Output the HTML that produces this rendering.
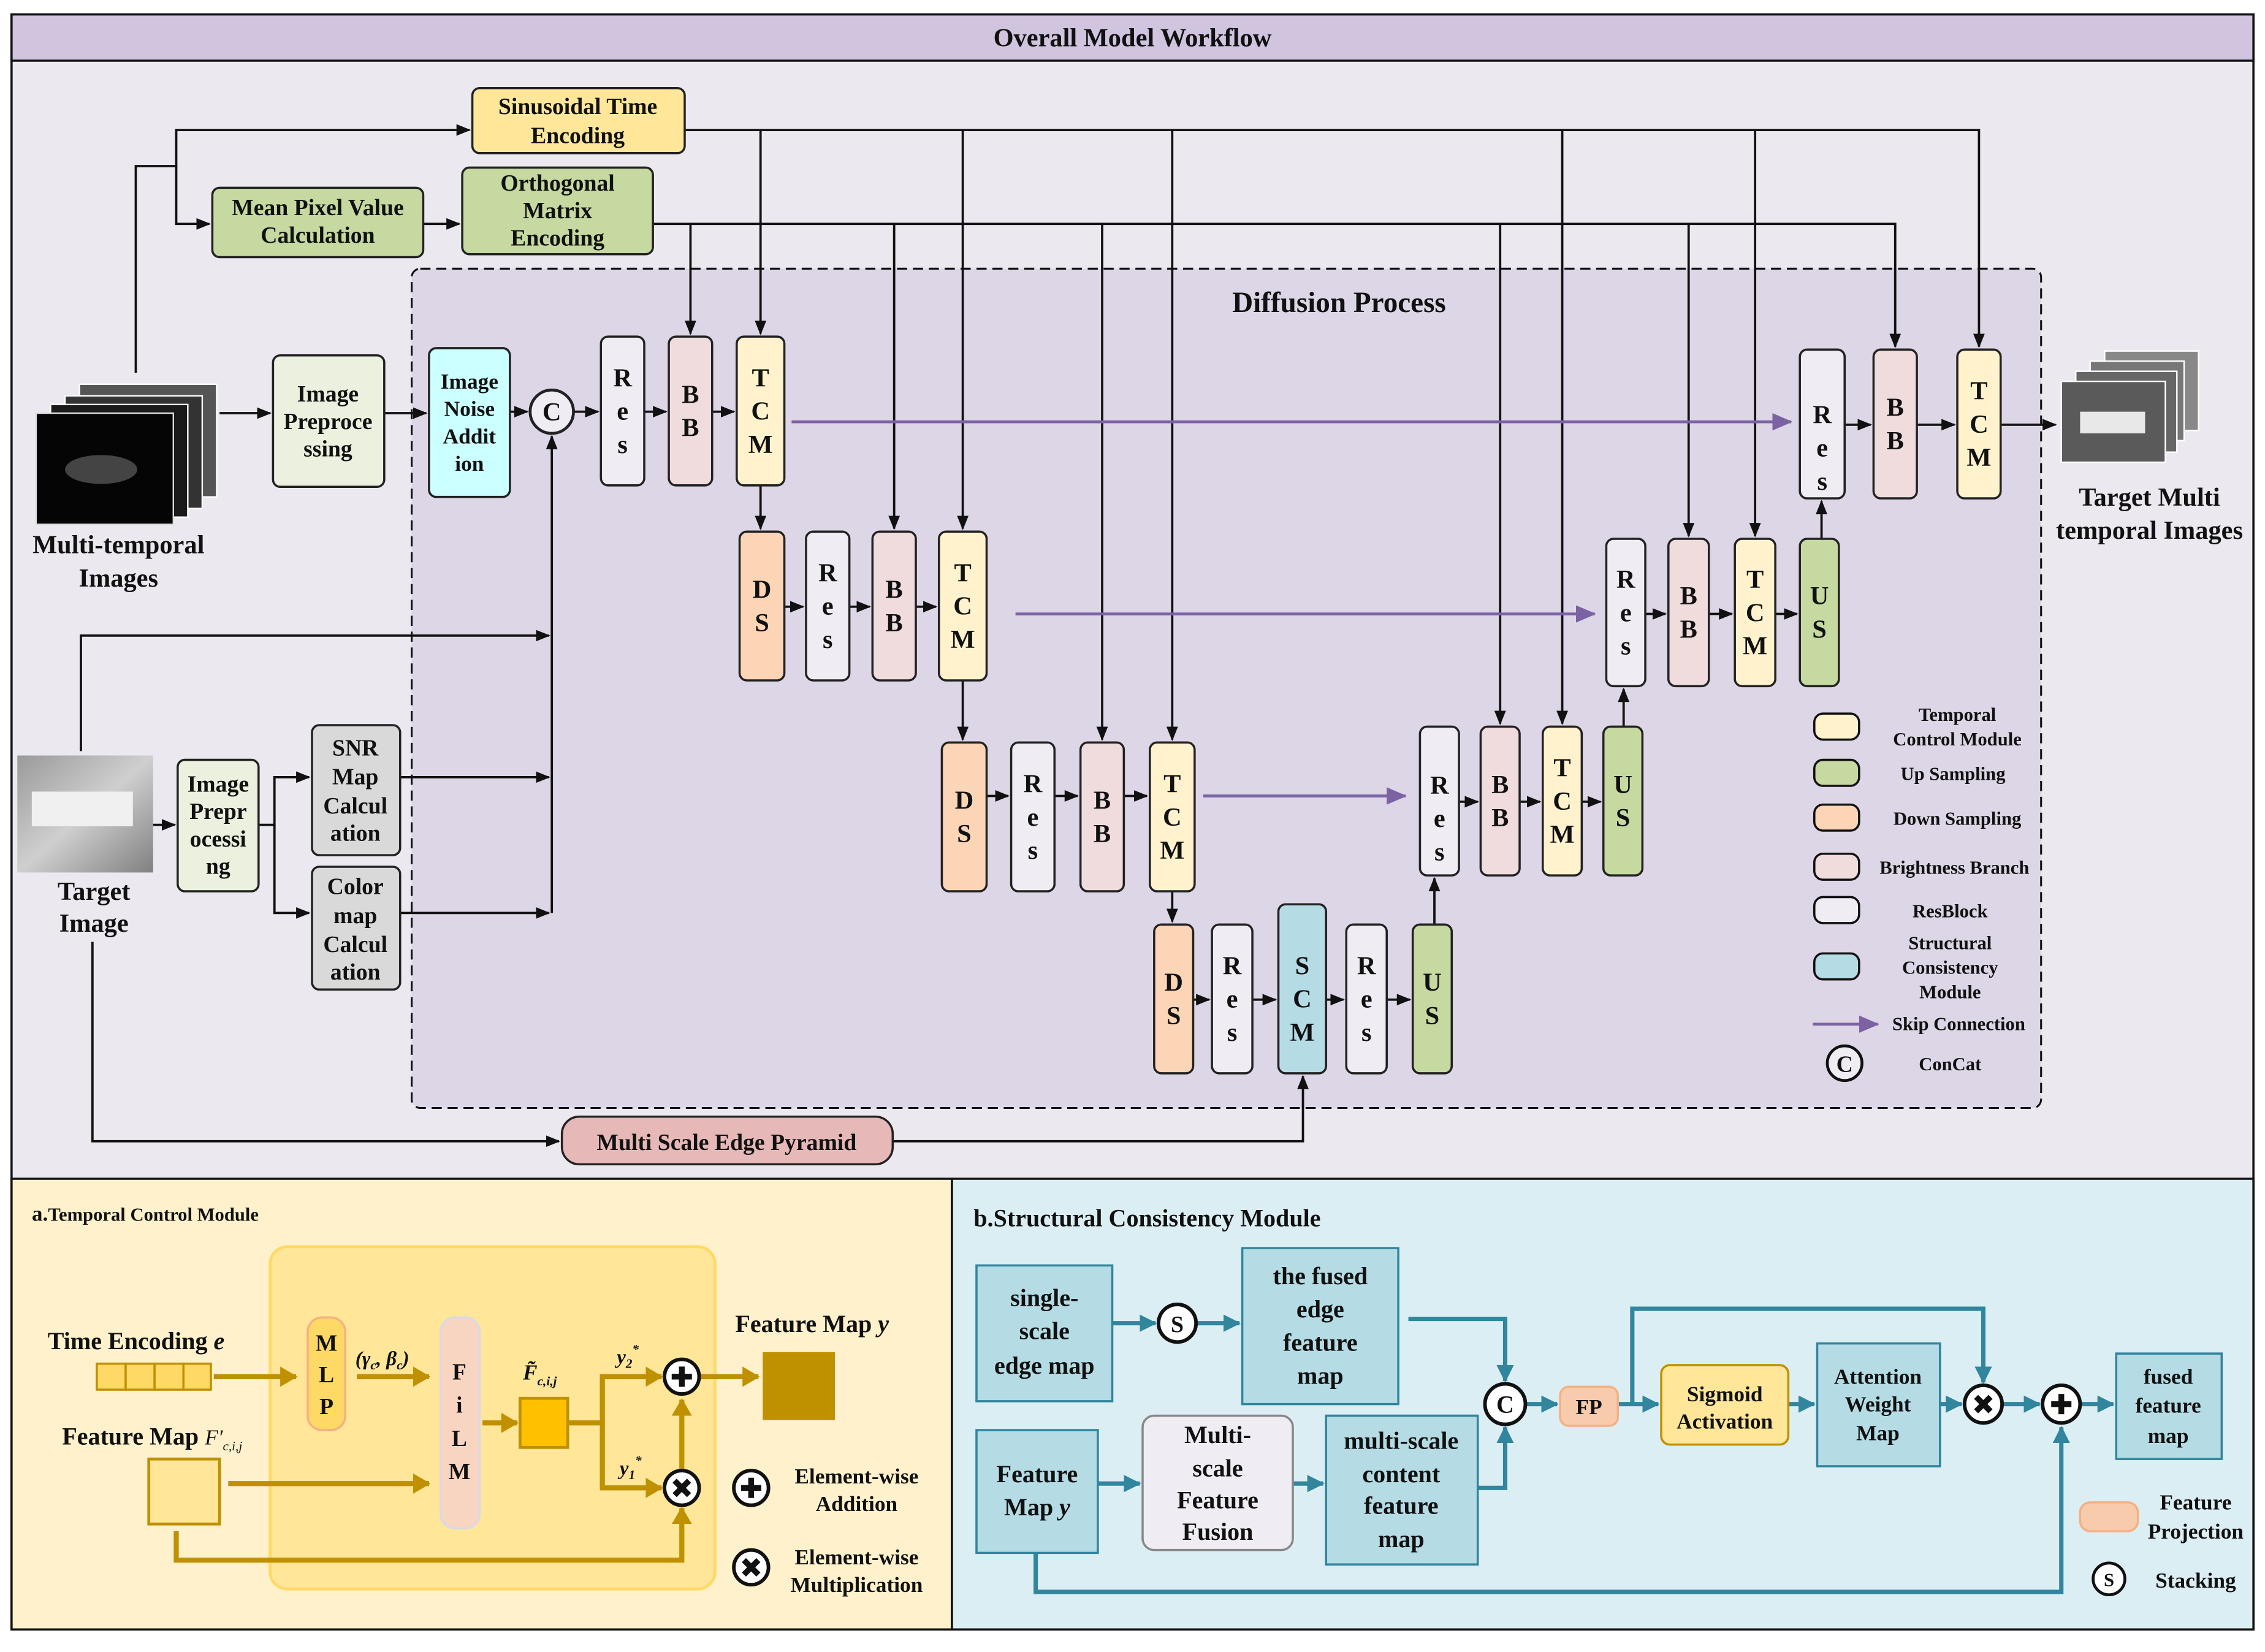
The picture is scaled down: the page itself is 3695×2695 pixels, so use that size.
<!DOCTYPE html>
<html><head><meta charset="utf-8"><style>html,body{margin:0;padding:0;background:#fff}svg{display:block}text{font-family:"Liberation Serif",serif;font-weight:bold;fill:#111}</style></head><body>
<svg width="3695" height="2695" viewBox="0 0 1568 1143.6" preserveAspectRatio="none" xmlns="http://www.w3.org/2000/svg">
<defs>
<marker id="ak" markerUnits="userSpaceOnUse" markerWidth="10" markerHeight="10" refX="9" refY="5" orient="auto"><path d="M0,1 L10,5 L0,9z" fill="#111"/></marker>
<marker id="ap" markerUnits="userSpaceOnUse" markerWidth="14" markerHeight="12" refX="13" refY="6" orient="auto"><path d="M0,0 L14,6 L0,12z" fill="#7b62a3"/></marker>
<marker id="ag" markerUnits="userSpaceOnUse" markerWidth="12" markerHeight="14" refX="11" refY="7" orient="auto"><path d="M0,0 L12,7 L0,14z" fill="#bf9000"/></marker>
<marker id="at" markerUnits="userSpaceOnUse" markerWidth="12" markerHeight="12" refX="11" refY="6" orient="auto"><path d="M0,0 L12,6 L0,12z" fill="#31859c"/></marker>
<linearGradient id="tg" x1="0" y1="0" x2="1" y2="1"><stop offset="0" stop-color="#9a9a9a"/><stop offset="0.5" stop-color="#cfcfcf"/><stop offset="1" stop-color="#808080"/></linearGradient>
</defs>
<!-- frame -->
<rect x="8" y="10" width="1552" height="1118" fill="#ece8f0" stroke="#111" stroke-width="1.5"/>
<rect x="8" y="10" width="1552" height="32" fill="#d0c4de" stroke="#111" stroke-width="1.5"/>
<text x="784" y="32" font-size="18" text-anchor="middle">Overall Model Workflow</text>
<rect x="285" y="186" width="1128" height="581" rx="6" fill="#ddd6e6" stroke="#111" stroke-width="1.3" stroke-dasharray="7,4"/>
<text x="927" y="216" font-size="20" text-anchor="middle">Diffusion Process</text>

<!-- top lines -->
<g fill="none" stroke="#111" stroke-width="1.6">
<path d="M94,258 V115 H122 V90 H325" marker-end="url(#ak)"/>
<path d="M122,115 V155 H145" marker-end="url(#ak)"/>
<path d="M293,155 H318" marker-end="url(#ak)"/>
<path d="M474,90 H1370 V240" marker-end="url(#ak)"/>
<path d="M526.5,90 V231" marker-end="url(#ak)"/>
<path d="M666.5,90 V366" marker-end="url(#ak)"/>
<path d="M811.5,90 V512" marker-end="url(#ak)"/>
<path d="M1081.5,90 V501" marker-end="url(#ak)"/>
<path d="M1215,90 V371" marker-end="url(#ak)"/>
<path d="M452,155 H1312 V240" marker-end="url(#ak)"/>
<path d="M478,155 V231" marker-end="url(#ak)"/>
<path d="M619,155 V366" marker-end="url(#ak)"/>
<path d="M763,155 V512" marker-end="url(#ak)"/>
<path d="M1038.5,155 V501" marker-end="url(#ak)"/>
<path d="M1169,155 V371" marker-end="url(#ak)"/>
<!-- row1 -->
<path d="M152,286 H187" marker-end="url(#ak)"/>
<path d="M266,286 H295" marker-end="url(#ak)"/>
<path d="M353,285 H365" marker-end="url(#ak)"/>
<path d="M397,285 H414" marker-end="url(#ak)"/>
<path d="M446,285 H461" marker-end="url(#ak)"/>
<path d="M493,285 H508" marker-end="url(#ak)"/>
<path d="M526.5,336 V366" marker-end="url(#ak)"/>
<path d="M543,420 H556" marker-end="url(#ak)"/>
<path d="M588,420 H602" marker-end="url(#ak)"/>
<path d="M634,420 H648" marker-end="url(#ak)"/>
<path d="M666.5,471 V512" marker-end="url(#ak)"/>
<path d="M683,551 H698" marker-end="url(#ak)"/>
<path d="M730,551 H746" marker-end="url(#ak)"/>
<path d="M778,551 H794" marker-end="url(#ak)"/>
<path d="M811.5,617 V638" marker-end="url(#ak)"/>
<path d="M826,692 H837" marker-end="url(#ak)"/>
<path d="M867,692 H883" marker-end="url(#ak)"/>
<path d="M918,692 H930" marker-end="url(#ak)"/>
<path d="M960,692 H976" marker-end="url(#ak)"/>
<path d="M993,640 V608" marker-end="url(#ak)"/>
<path d="M1010,555 H1023" marker-end="url(#ak)"/>
<path d="M1052,555 H1066" marker-end="url(#ak)"/>
<path d="M1095,555 H1108" marker-end="url(#ak)"/>
<path d="M1124,503 V477" marker-end="url(#ak)"/>
<path d="M1139,425 H1153" marker-end="url(#ak)"/>
<path d="M1183,425 H1199" marker-end="url(#ak)"/>
<path d="M1229,425 H1244" marker-end="url(#ak)"/>
<path d="M1261,373 V347" marker-end="url(#ak)"/>
<path d="M1277,294 H1295" marker-end="url(#ak)"/>
<path d="M1327,294 H1353" marker-end="url(#ak)"/>
<path d="M1385,294 H1423" marker-end="url(#ak)"/>
<!-- target image lines -->
<path d="M56,520 V440 H380" marker-end="url(#ak)"/>
<path d="M382,632 V302" marker-end="url(#ak)"/>
<path d="M277,538 H380" marker-end="url(#ak)"/>
<path d="M277,632 H380" marker-end="url(#ak)"/>
<path d="M106,571 H121" marker-end="url(#ak)"/>
<path d="M179,571 H190 V538 H214" marker-end="url(#ak)"/>
<path d="M190,571 V632 H214" marker-end="url(#ak)"/>
<path d="M64,652 V790 H387" marker-end="url(#ak)"/>
<path d="M618,790 H902 V745" marker-end="url(#ak)"/>
</g>
<g stroke="#7b62a3" stroke-width="2" fill="none">
<path d="M548,292 H1240" marker-end="url(#ap)"/>
<path d="M703,425 H1104" marker-end="url(#ap)"/>
<path d="M833,551 H973" marker-end="url(#ap)"/>
<path d="M1255,709 H1300" marker-end="url(#ap)"/>
</g>

<!-- top nodes -->
<g stroke="#222" stroke-width="1.5">
<rect x="327" y="61" width="147" height="45" rx="5" fill="#ffe699"/>
<rect x="147" y="130" width="146" height="48" rx="5" fill="#c5d9a0"/>
<rect x="320" y="116" width="132" height="60" rx="5" fill="#c5d9a0"/>
<rect x="189" y="246" width="77" height="91" rx="5" fill="#ebf1de"/>
<rect x="297" y="241" width="56" height="103" rx="5" fill="#ccffff"/>
<rect x="123" y="526" width="56" height="91" rx="5" fill="#ebf1de"/>
<rect x="216" y="502" width="61" height="90" rx="5" fill="#d9d9d9"/>
<rect x="216" y="600" width="61" height="85" rx="5" fill="#d9d9d9"/>
<rect x="389" y="773" width="229" height="33" rx="12" fill="#e6b8b7"/>
<circle cx="382" cy="285" r="15" fill="#efedf3" stroke-width="2"/>
</g>
<g font-size="16" text-anchor="middle">
<text x="400" y="79">Sinusoidal Time</text><text x="400" y="99">Encoding</text>
<text x="220" y="149">Mean Pixel Value</text><text x="220" y="168">Calculation</text>
<text x="386" y="132">Orthogonal</text><text x="386" y="151">Matrix</text><text x="386" y="170">Encoding</text>
<text x="227" y="278">Image</text><text x="227" y="297">Preproce</text><text x="227" y="316">ssing</text>
<text x="325" y="269" font-size="15">Image</text><text x="325" y="288" font-size="15">Noise</text><text x="325" y="307" font-size="15">Addit</text><text x="325" y="326" font-size="15">ion</text>
<text x="151" y="548">Image</text><text x="151" y="567">Prepr</text><text x="151" y="586">ocessi</text><text x="151" y="605">ng</text>
<text x="246" y="523">SNR</text><text x="246" y="543">Map</text><text x="246" y="563">Calcul</text><text x="246" y="582">ation</text>
<text x="246" y="619">Color</text><text x="246" y="639">map</text><text x="246" y="659">Calcul</text><text x="246" y="678">ation</text>
<text x="503" y="796">Multi Scale Edge Pyramid</text>
<text x="382" y="291" font-size="18">C</text>
</g>

<!-- images -->
<g>
<rect x="55" y="266" width="95" height="78" fill="#555" stroke="#fff"/>
<rect x="45" y="274" width="95" height="78" fill="#333" stroke="#fff"/>
<rect x="35" y="280" width="95" height="78" fill="#1a1a1a" stroke="#fff"/>
<rect x="25" y="286" width="95" height="77" fill="#050505" stroke="#ddd"/>
<ellipse cx="70" cy="325" rx="25" ry="10" fill="#444"/>
<rect x="1457" y="243" width="65" height="55" fill="#888" stroke="#fff"/>
<rect x="1447" y="250" width="65" height="55" fill="#777" stroke="#fff"/>
<rect x="1437" y="257" width="70" height="56" fill="#666" stroke="#fff"/>
<rect x="1427" y="264" width="72" height="56" fill="#5a5a5a" stroke="#fff"/>
<rect x="1440" y="285" width="45" height="15" fill="#e8e8e8"/>
<rect x="12" y="523" width="94" height="81" fill="url(#tg)"/>
<rect x="22" y="548" width="70" height="24" fill="#f0f0f0"/>
</g>
<g font-size="18" text-anchor="middle">
<text x="82" y="383">Multi-temporal</text><text x="82" y="406">Images</text>
<text x="65" y="623">Target</text><text x="65" y="645">Image</text>
<text x="1488" y="350">Target Multi</text><text x="1488" y="373">temporal Images</text>
</g>

<!-- column blocks -->
<g stroke="#222" stroke-width="1.5">
<rect x="416" y="233" width="30" height="103" rx="5" fill="#efedf3"/>
<rect x="463" y="233" width="30" height="103" rx="5" fill="#f0dcdc"/>
<rect x="510" y="233" width="33" height="103" rx="5" fill="#fff2cc"/>
<rect x="512" y="368" width="31" height="103" rx="5" fill="#fbd5b5"/>
<rect x="558" y="368" width="30" height="103" rx="5" fill="#efedf3"/>
<rect x="604" y="368" width="30" height="103" rx="5" fill="#f0dcdc"/>
<rect x="650" y="368" width="33" height="103" rx="5" fill="#fff2cc"/>
<rect x="652" y="514" width="31" height="103" rx="5" fill="#fbd5b5"/>
<rect x="700" y="514" width="30" height="103" rx="5" fill="#efedf3"/>
<rect x="748" y="514" width="30" height="103" rx="5" fill="#f0dcdc"/>
<rect x="796" y="514" width="31" height="103" rx="5" fill="#fff2cc"/>
<rect x="799" y="640" width="27" height="103" rx="5" fill="#fbd5b5"/>
<rect x="839" y="640" width="28" height="103" rx="5" fill="#efedf3"/>
<rect x="885" y="626" width="33" height="117" rx="5" fill="#b5dce5"/>
<rect x="932" y="640" width="28" height="103" rx="5" fill="#efedf3"/>
<rect x="978" y="640" width="27" height="103" rx="5" fill="#c5d9a0"/>
<rect x="983" y="503" width="27" height="103" rx="5" fill="#efedf3"/>
<rect x="1025" y="503" width="27" height="103" rx="5" fill="#f0dcdc"/>
<rect x="1068" y="503" width="27" height="103" rx="5" fill="#fff2cc"/>
<rect x="1110" y="503" width="27" height="103" rx="5" fill="#c5d9a0"/>
<rect x="1112" y="373" width="27" height="102" rx="5" fill="#efedf3"/>
<rect x="1155" y="373" width="28" height="102" rx="5" fill="#f0dcdc"/>
<rect x="1201" y="373" width="28" height="102" rx="5" fill="#fff2cc"/>
<rect x="1246" y="373" width="27" height="102" rx="5" fill="#c5d9a0"/>
<rect x="1246" y="242" width="31" height="103" rx="5" fill="#efedf3"/>
<rect x="1297" y="242" width="30" height="103" rx="5" fill="#f0dcdc"/>
<rect x="1355" y="242" width="30" height="103" rx="5" fill="#fff2cc"/>
</g>
<g font-size="18" text-anchor="middle">
<text x="431" y="267.5">R</text><text x="431" y="290.5">e</text><text x="431" y="313.5">s</text>
<text x="478" y="279">B</text><text x="478" y="302">B</text>
<text x="526.5" y="267.5">T</text><text x="526.5" y="290.5">C</text><text x="526.5" y="313.5">M</text>
<text x="527.5" y="414">D</text><text x="527.5" y="437">S</text>
<text x="573" y="402.5">R</text><text x="573" y="425.5">e</text><text x="573" y="448.5">s</text>
<text x="619" y="414">B</text><text x="619" y="437">B</text>
<text x="666.5" y="402.5">T</text><text x="666.5" y="425.5">C</text><text x="666.5" y="448.5">M</text>
<text x="667.5" y="560">D</text><text x="667.5" y="583">S</text>
<text x="715" y="548.5">R</text><text x="715" y="571.5">e</text><text x="715" y="594.5">s</text>
<text x="763" y="560">B</text><text x="763" y="583">B</text>
<text x="811.5" y="548.5">T</text><text x="811.5" y="571.5">C</text><text x="811.5" y="594.5">M</text>
<text x="812.5" y="686">D</text><text x="812.5" y="709">S</text>
<text x="853" y="674.5">R</text><text x="853" y="697.5">e</text><text x="853" y="720.5">s</text>
<text x="901.5" y="674.5">S</text><text x="901.5" y="697.5">C</text><text x="901.5" y="720.5">M</text>
<text x="946" y="674.5">R</text><text x="946" y="697.5">e</text><text x="946" y="720.5">s</text>
<text x="991.5" y="686">U</text><text x="991.5" y="709">S</text>
<text x="996.5" y="549.5">R</text><text x="996.5" y="572.5">e</text><text x="996.5" y="595.5">s</text>
<text x="1038.5" y="549">B</text><text x="1038.5" y="572">B</text>
<text x="1081.5" y="537.5">T</text><text x="1081.5" y="560.5">C</text><text x="1081.5" y="583.5">M</text>
<text x="1123.5" y="549">U</text><text x="1123.5" y="572">S</text>
<text x="1125.5" y="407">R</text><text x="1125.5" y="430">e</text><text x="1125.5" y="453">s</text>
<text x="1169" y="418.5">B</text><text x="1169" y="441.5">B</text>
<text x="1215" y="407">T</text><text x="1215" y="430">C</text><text x="1215" y="453">M</text>
<text x="1259.5" y="418.5">U</text><text x="1259.5" y="441.5">S</text>
<text x="1261.5" y="293">R</text><text x="1261.5" y="316">e</text><text x="1261.5" y="339">s</text>
<text x="1312" y="288">B</text><text x="1312" y="311">B</text>
<text x="1370" y="276.5">T</text><text x="1370" y="299.5">C</text><text x="1370" y="322.5">M</text>
</g>

<!-- legend -->
<g stroke="#111" stroke-width="1.5">
<rect x="1256" y="494" width="31" height="18" rx="6" fill="#fff2cc"/>
<rect x="1256" y="526" width="31" height="18" rx="6" fill="#c5d9a0"/>
<rect x="1256" y="557" width="31" height="18" rx="6" fill="#fbd5b5"/>
<rect x="1256" y="591" width="31" height="18" rx="6" fill="#f0dcdc"/>
<rect x="1256" y="621" width="31" height="18" rx="6" fill="#efedf3"/>
<rect x="1256" y="660" width="31" height="18" rx="6" fill="#b5dce5"/>
<circle cx="1277" cy="736" r="12" fill="#efedf3" stroke-width="2"/>
</g>
<g font-size="13" text-anchor="middle">
<text x="1355" y="499">Temporal</text><text x="1355" y="516">Control Module</text>
<text x="1352" y="540">Up Sampling</text>
<text x="1355" y="571">Down Sampling</text>
<text x="1353" y="605">Brightness Branch</text>
<text x="1350" y="635">ResBlock</text>
<text x="1350" y="657">Structural</text><text x="1350" y="674">Consistency</text><text x="1350" y="691">Module</text>
<text x="1356" y="713">Skip Connection</text>
<text x="1350" y="741">ConCat</text>
<text x="1277" y="742" font-size="16">C</text>
</g>

<!-- panel a -->
<rect x="8" y="816" width="651" height="312" fill="#fff1cc" stroke="#111" stroke-width="1.5"/>
<rect x="659" y="816" width="901" height="312" fill="#dbeef4" stroke="#111" stroke-width="1.5"/>
<text x="22" y="845" font-size="13"><tspan font-size="15">a.</tspan>Temporal Control Module</text>
<rect x="187" y="863" width="308" height="237" rx="12" fill="#ffe699" stroke="#ffd966" stroke-width="2"/>
<text x="33" y="934" font-size="17">Time Encoding <tspan font-style="italic">e</tspan></text>
<g stroke="#bf9000" stroke-width="1.5" fill="#ffd966"><rect x="67" y="944" width="20" height="18"/><rect x="87" y="944" width="20" height="18"/><rect x="107" y="944" width="20" height="18"/><rect x="127" y="944" width="19" height="18"/></g>
<rect x="213" y="912" width="26" height="78" rx="10" fill="#ffd966" stroke="#f4b183" stroke-width="1.5"/>
<rect x="305" y="912" width="27" height="146" rx="10" fill="#f8d5c0" stroke="#d9d9e8" stroke-width="1.5"/>
<rect x="103" y="1010" width="49" height="45" fill="#ffe699" stroke="#bf9000" stroke-width="2"/>
<rect x="360" y="968" width="33" height="34" fill="#ffc000" stroke="#bf9000" stroke-width="2"/>
<rect x="528" y="936" width="50" height="47" fill="#bf9000"/>
<g fill="none" stroke="#bf9000" stroke-width="3.5">
<path d="M148,953 H205" marker-end="url(#ag)"/>
<path d="M247,953 H297" marker-end="url(#ag)"/>
<path d="M158,1027 H297" marker-end="url(#ag)"/>
<path d="M334,985 H358" marker-end="url(#ag)"/>
<path d="M393,985 H417 V953 H458" marker-end="url(#ag)"/>
<path d="M417,985 V1030 H458" marker-end="url(#ag)"/>
<path d="M472,1017 V969" marker-end="url(#ag)"/>
<path d="M122,1060 V1080 H472 V1044" marker-end="url(#ag)"/>
<path d="M485,953 H525" marker-end="url(#ag)"/>
</g>
<g font-size="16" text-anchor="middle">
<text x="226" y="935">M</text><text x="226" y="957">L</text><text x="226" y="979">P</text>
<text x="318" y="955">F</text><text x="318" y="978">i</text><text x="318" y="1001">L</text><text x="318" y="1024">M</text>
</g>
<text x="246" y="945" font-size="14" font-weight="normal" font-style="italic">(γ<tspan font-size="9" dy="3">c</tspan><tspan dy="-3">, β</tspan><tspan font-size="9" dy="3">c</tspan><tspan dy="-3">)</tspan></text>
<text x="362" y="955" font-size="15" font-weight="normal" font-style="italic">F̃<tspan font-size="9" dy="4">c,i,j</tspan></text>
<text x="427" y="944" font-size="14" font-weight="normal" font-style="italic">y<tspan font-size="9" dy="3">2</tspan><tspan font-size="9" dy="-10">*</tspan></text>
<text x="429" y="1021" font-size="14" font-weight="normal" font-style="italic">y<tspan font-size="9" dy="3">1</tspan><tspan font-size="9" dy="-10">*</tspan></text>
<text x="43" y="1000" font-size="17">Feature Map <tspan font-weight="normal" font-style="italic" font-size="15">F′<tspan font-size="9" dy="4">c,i,j</tspan></tspan></text>
<text x="509" y="922" font-size="17">Feature Map <tspan font-style="italic">y</tspan></text>
<g stroke="#111" stroke-width="2.5" fill="#fff">
<circle cx="472" cy="953" r="12"/><circle cx="472" cy="1030" r="12"/>
<circle cx="520" cy="1030" r="12"/><circle cx="520" cy="1085" r="12"/>
</g>
<g stroke="#111" stroke-width="4">
<path d="M472,946 V960 M465,953 H479"/><path d="M513,1030 H527 M520,1023 V1037"/>
<path d="M467,1025 L477,1035 M477,1025 L467,1035"/><path d="M515,1080 L525,1090 M525,1080 L515,1090"/>
</g>
<g font-size="15" text-anchor="middle">
<text x="593" y="1027">Element-wise</text><text x="593" y="1046">Addition</text>
<text x="593" y="1083">Element-wise</text><text x="593" y="1102">Multiplication</text>
</g>

<!-- panel b -->
<text x="674" y="849" font-size="17">b.Structural Consistency Module</text>
<g fill="none" stroke="#31859c" stroke-width="3">
<path d="M770,916 H800" marker-end="url(#at)"/>
<path d="M829,916 H858" marker-end="url(#at)"/>
<path d="M975,913 H1042 V956" marker-end="url(#at)"/>
<path d="M760,1027 H789" marker-end="url(#at)"/>
<path d="M895,1027 H916" marker-end="url(#at)"/>
<path d="M1023,1030 H1042 V988" marker-end="url(#at)"/>
<path d="M1056,972 H1078" marker-end="url(#at)"/>
<path d="M1120,972 H1148" marker-end="url(#at)"/>
<path d="M1130,972 V906 H1373 V957" marker-end="url(#at)"/>
<path d="M1238,972 H1256" marker-end="url(#at)"/>
<path d="M1343,972 H1358" marker-end="url(#at)"/>
<path d="M1387,972 H1412" marker-end="url(#at)"/>
<path d="M1441,972 H1463" marker-end="url(#at)"/>
<path d="M717,1075 V1102 H1427 V988" marker-end="url(#at)"/>
</g>
<g stroke="#31859c" stroke-width="1.5">
<rect x="676" y="876" width="94" height="94" fill="#b5dce5"/>
<rect x="860" y="864" width="108" height="108" fill="#b5dce5"/>
<rect x="676" y="990" width="84" height="85" fill="#b5dce5"/>
<rect x="791" y="980" width="104" height="93" rx="8" fill="#efedf3" stroke="#888"/>
<rect x="918" y="980" width="105" height="103" fill="#b5dce5"/>
<rect x="1080" y="960" width="40" height="27" rx="6" fill="#f8cbad" stroke="#f4b183"/>
<rect x="1150" y="945" width="88" height="55" rx="6" fill="#ffe699" stroke="#bf9000"/>
<rect x="1258" y="930" width="85" height="85" fill="#b5dce5"/>
<rect x="1465" y="937" width="73" height="73" fill="#b5dce5"/>
<rect x="1440" y="1040" width="40" height="20" rx="7" fill="#f8cbad" stroke="#f4b183"/>
</g>
<g stroke="#111" stroke-width="2.5" fill="#fff">
<circle cx="815" cy="916" r="13"/><circle cx="1042" cy="972" r="14"/>
<circle cx="1373" cy="972" r="13"/><circle cx="1427" cy="972" r="13"/>
<circle cx="1460" cy="1093" r="11" stroke-width="2"/>
</g>
<g stroke="#111" stroke-width="4">
<path d="M1427,965 V979 M1420,972 H1434"/><path d="M1368,967 L1378,977 M1378,967 L1368,977"/>
</g>
<g font-size="17" text-anchor="middle">
<text x="815" y="922" font-size="16">S</text>
<text x="1042" y="978" font-size="17">C</text>
<text x="1460" y="1098" font-size="13">S</text>
<text x="723" y="904">single-</text><text x="723" y="927">scale</text><text x="723" y="951">edge map</text>
<text x="914" y="889">the fused</text><text x="914" y="912">edge</text><text x="914" y="935">feature</text><text x="914" y="958">map</text>
<text x="718" y="1026">Feature</text><text x="718" y="1049">Map <tspan font-style="italic">y</tspan></text>
<text x="843" y="999">Multi-</text><text x="843" y="1022">scale</text><text x="843" y="1044">Feature</text><text x="843" y="1066">Fusion</text>
<text x="970" y="1003">multi-scale</text><text x="970" y="1026">content</text><text x="970" y="1048">feature</text><text x="970" y="1071">map</text>
<text x="1100" y="979" font-size="15">FP</text>
<text x="1194" y="970" font-size="15">Sigmoid</text><text x="1194" y="989" font-size="15">Activation</text>
<text x="1300" y="958" font-size="15">Attention</text><text x="1300" y="977" font-size="15">Weight</text><text x="1300" y="997" font-size="15">Map</text>
<text x="1501" y="958" font-size="15">fused</text><text x="1501" y="978" font-size="15">feature</text><text x="1501" y="999" font-size="15">map</text>
<text x="1520" y="1045" font-size="15">Feature</text><text x="1520" y="1065" font-size="15">Projection</text>
<text x="1520" y="1099" font-size="15">Stacking</text>
</g>
</svg>
</body></html>
